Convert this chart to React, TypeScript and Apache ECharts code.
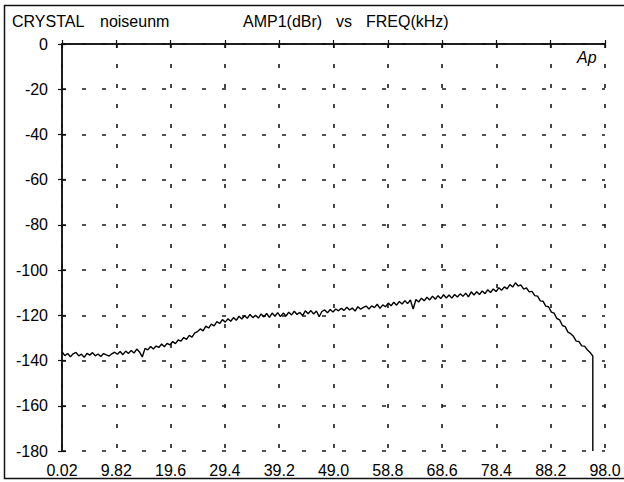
import React, { useEffect, useRef } from "react";
import * as echarts from "echarts";

const titleLeft = ["CRYSTAL", "noiseunm"];
const titleRight = ["AMP1(dBr)", "vs", "FREQ(kHz)"];
const xTickLabels = ["0.02", "9.82", "19.6", "29.4", "39.2", "49.0", "58.8", "68.6", "78.4", "88.2", "98.0"];
const yMin = -180;
const yMax = 0;
const yStep = 20;
const xMin = 0;
const xMax = 98;
const xStep = 9.8;

const freqStart = 0.02;
const freqEnd = 95.8;
const dropFloor = -180;

const amplitude = [
  -136.2, -137.8, -136.9, -138.3, -137.0, -136.4, -137.9, -137.2, -138.6, -136.8,
  -137.6, -136.5, -137.9, -137.1, -138.2, -136.9, -137.5, -138.0, -137.0, -136.3,
  -137.2, -136.0, -137.4, -135.8, -136.9, -135.5, -136.7, -134.9, -136.2, -138.4,
  -134.6, -135.3, -133.8, -134.9, -133.6, -134.2, -132.7, -133.9, -132.4, -133.1,
  -131.6, -132.5, -130.9, -131.4, -129.8, -130.6, -128.9, -129.6, -127.8, -127.2,
  -126.0, -126.9, -124.8, -125.6, -123.9, -124.7, -122.8, -123.6, -121.9, -123.0,
  -121.5, -122.6, -121.0, -122.2, -120.4, -121.6, -120.2, -121.3, -119.6, -121.0,
  -120.0, -121.2, -119.4, -120.7, -119.2, -120.9, -119.0, -120.4, -118.8, -120.6,
  -119.0, -120.3, -118.6, -119.8, -118.2, -119.6, -118.7, -120.1, -118.0, -119.3,
  -117.9, -119.4, -118.1, -120.6, -118.3, -117.6, -118.9, -117.4, -118.5, -117.2,
  -118.0, -116.9, -117.8, -116.4, -117.6, -116.8, -118.1, -116.2, -117.3, -116.5,
  -115.9, -117.2, -115.8, -116.6, -115.1, -116.9, -115.4, -116.2, -114.6, -115.8,
  -114.2, -115.5, -113.9, -115.0, -113.5, -114.8, -113.2, -117.2, -113.0, -114.1,
  -112.4, -113.6, -112.0, -113.2, -111.5, -112.9, -111.3, -112.6, -110.9, -112.3,
  -111.0, -112.4, -110.8, -111.9, -110.5, -111.6, -110.2, -111.8, -109.6, -111.0,
  -109.6, -110.8, -109.2, -110.4, -108.7, -109.9, -108.3, -109.5, -107.8, -108.9,
  -107.4, -108.3, -106.4, -107.5, -105.6, -107.0, -106.6, -108.4, -107.9, -109.6,
  -109.4, -111.3, -111.5, -113.6, -113.8, -115.9, -116.2, -118.6, -119.0, -121.4,
  -122.0, -124.5, -125.0, -127.4, -128.1, -129.3, -131.4, -131.6, -133.5, -133.6,
  -135.2, -136.4, -138.0,
];

const FONT = "'Liberation Sans', Arial, Helvetica, sans-serif";

export default function App() {
  const ref = useRef<HTMLDivElement>(null);

  useEffect(() => {
    if (!ref.current) return;
    const chart = echarts.init(ref.current, undefined, { renderer: "svg" });
    const n = amplitude.length;
    const step = (freqEnd - freqStart) / (n - 1);
    const data: number[][] = amplitude.map((v, i) => [freqStart + i * step, v]);
    data.push([freqStart + (n - 1) * step, dropFloor]);

    const axisLine = { show: true, lineStyle: { color: "#111", width: 1.5 } };
    const tick = { show: true, inside: true, length: 4, lineStyle: { color: "#111", width: 1.2 } };
    const split = { show: true, lineStyle: { color: "#1a1a1a", width: 1.6, type: [4, 16] as any } };
    const textStyle = { fontSize: 16, fontFamily: FONT, fill: "#000", verticalAlign: "middle" };

    chart.setOption({
      animation: false,
      backgroundColor: "#ffffff",
      grid: { left: 62, top: 44, right: 19, bottom: 31, containLabel: false },
      xAxis: [
        {
          type: "value",
          min: xMin,
          max: xMax,
          interval: xStep,
          axisLine,
          axisTick: tick,
          splitLine: split,
          axisLabel: {
            fontSize: 16,
            fontFamily: FONT,
            color: "#000",
            margin: 11,
            formatter: (v: number) => xTickLabels[Math.round(v / xStep)] ?? "",
          },
        },
        {
          type: "value",
          position: "top",
          min: xMin,
          max: xMax,
          interval: xStep,
          axisLine,
          axisTick: tick,
          splitLine: { show: false },
          axisLabel: { show: false },
        },
      ],
      yAxis: [
        {
          type: "value",
          min: yMin,
          max: yMax,
          interval: yStep,
          axisLine,
          axisTick: tick,
          splitLine: split,
          axisLabel: { fontSize: 16, fontFamily: FONT, color: "#000", margin: 14 },
        },
        {
          type: "value",
          position: "right",
          min: yMin,
          max: yMax,
          interval: yStep,
          axisLine,
          axisTick: tick,
          splitLine: { show: false },
          axisLabel: { show: false },
        },
      ],
      series: [
        {
          type: "line",
          data,
          showSymbol: false,
          symbol: "none",
          lineStyle: { color: "#000", width: 1.4 },
          xAxisIndex: 0,
          yAxisIndex: 0,
        },
      ],
      graphic: [
        {
          type: "rect",
          shape: { x: 4.5, y: 5.5, width: 640, height: 473 },
          style: { fill: "none", stroke: "#111", lineWidth: 1.5 },
          silent: true,
        },
        { type: "text", x: 12, y: 21, style: { ...textStyle, text: titleLeft[0] } },
        { type: "text", x: 100, y: 21, style: { ...textStyle, text: titleLeft[1] } },
        { type: "text", x: 243, y: 21, style: { ...textStyle, text: titleRight[0] } },
        { type: "text", x: 336, y: 21, style: { ...textStyle, text: titleRight[1] } },
        { type: "text", x: 366, y: 21, style: { ...textStyle, text: titleRight[2] } },
        { type: "text", x: 577, y: 57, style: { ...textStyle, text: "Ap", fontStyle: "italic" } },
      ],
    });
    return () => chart.dispose();
  }, []);

  return (
    <div
      ref={ref}
      style={{ position: "fixed", left: 0, top: 0, width: 624, height: 482, background: "#fff" }}
    />
  );
}
